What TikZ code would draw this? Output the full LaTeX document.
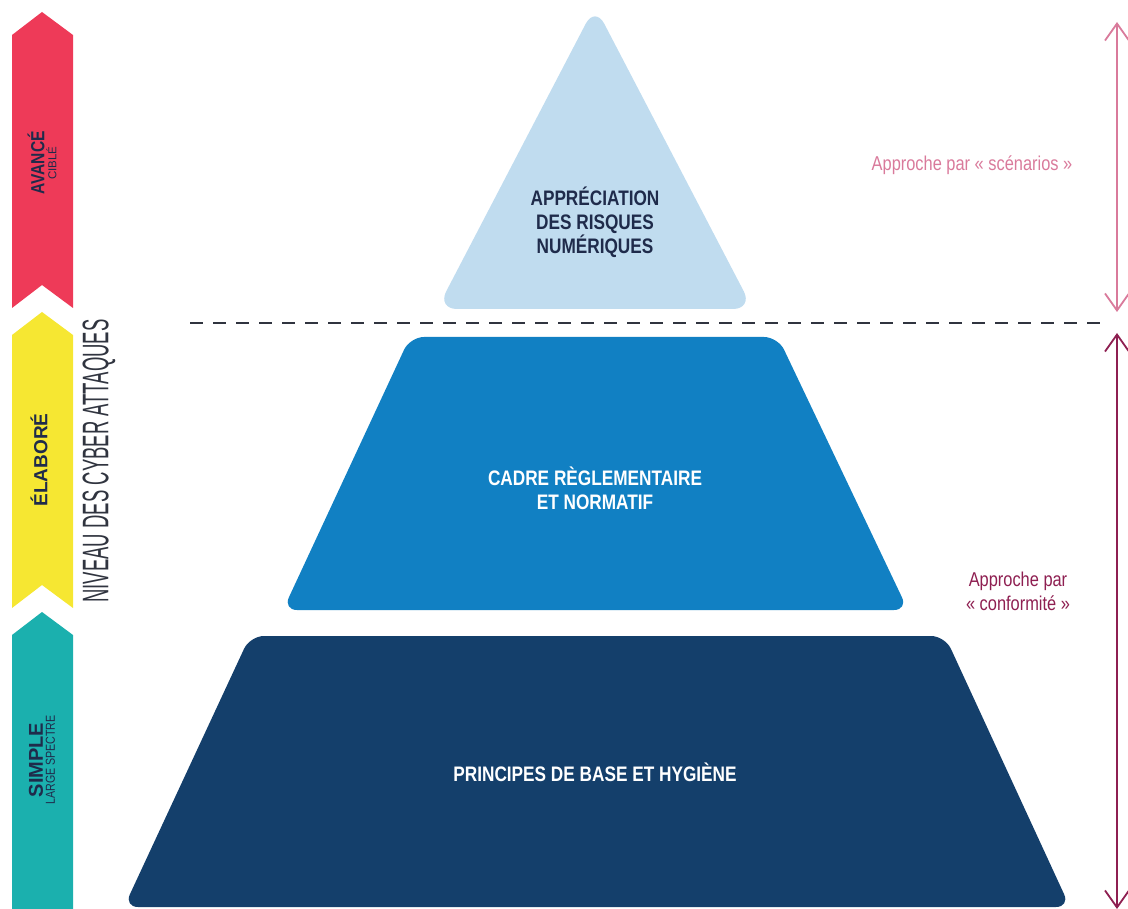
\documentclass[tikz,border=0pt]{standalone}
\usepackage{fontspec}
\setmainfont{Liberation Sans}
\newfontfamily\condfont[FakeStretch=0.82]{Liberation Sans}
\newfontfamily\narrowfont[FakeStretch=0.5]{Liberation Sans}
\usetikzlibrary{arrows.meta}
\definecolor{avance}{HTML}{EE3A58}
\definecolor{elabore}{HTML}{F6E732}
\definecolor{simple}{HTML}{1BB0AE}
\definecolor{pale}{HTML}{C0DCEF}
\definecolor{mid}{HTML}{1180C3}
\definecolor{deep}{HTML}{143F6B}
\definecolor{ink}{HTML}{1F2B4B}
\definecolor{rose}{HTML}{D97A9B}
\definecolor{wine}{HTML}{8E1F51}
\definecolor{slate}{HTML}{30343F}

\begin{document}
\begin{tikzpicture}[x=1pt,y=-1pt]

\tikzset{tag/.style = {rotate=90, align=center, text=ink, inner sep=0pt}}
\tikzset{level/.style = {rounded corners=14pt}}
\tikzset{title/.style = {align=center, font=\condfont\bfseries\fontsize{21}{24}\selectfont}}
\tikzset{note/.style = {align=center, font=\condfont\fontsize{20}{24}\selectfont}}
\tikzset{span/.style = {<->, >={Straight Barb[length=17pt,width=24pt]}, line width=1.8pt}}

\useasboundingbox (0,0) rectangle (1128,909);

%bands
\fill[avance] (12,35) -- (42,12) -- (73,35) -- (73,308) -- (42,285) -- (12,308) -- cycle;
\fill[elabore] (12,335) -- (42,312) -- (73,335) -- (73,608) -- (42,585) -- (12,608) -- cycle;
\fill[simple] (12,635) -- (42,612) -- (73,635) -- (73,909) -- (12,909) -- cycle;
\node[tag] (advanced) at (42,163) {{\condfont\bfseries\fontsize{19}{15}\selectfont AVANCÉ}\\{\fontsize{11.5}{11}\selectfont CIBLÉ}};
\node[tag] (elaborate) at (39,460) {\bfseries\fontsize{19}{15}\selectfont ÉLABORÉ};
\node[tag] (basic) at (42,760) {{\bfseries\fontsize{20}{17}\selectfont SIMPLE}\\{\condfont\fontsize{13}{12}\selectfont LARGE SPECTRE}};
\node[rotate=90, text=slate, font=\narrowfont\fontsize{37}{38}\selectfont] (niveau) at (99,461) {NIVEAU DES CYBER ATTAQUES};

%pyramid
\fill[pale, rounded corners=20pt] (595,309) -- (753,309) -- (595,6) -- (437,309) -- cycle;
\fill[mid, level] (595,610) -- (908,610) -- (778,337) -- (410,337) -- (283,610) -- cycle;
\fill[deep, level] (595,907) -- (1070,907) -- (945,636) -- (250,636) -- (124,907) -- cycle;
\node[title, text=ink] (risk) at (595,222) {APPRÉCIATION\\DES RISQUES\\NUMÉRIQUES};
\node[title, text=white] (frame) at (595,488) {CADRE RÈGLEMENTAIRE\\ET NORMATIF};
\node[title, text=white] (base) at (595,772) {PRINCIPES DE BASE ET HYGIÈNE};

%separator
\draw[slate, line width=1.8pt, dash pattern=on 13pt off 10pt] (190,323) -- (1110,323);

%approaches
\coordinate (scenTop) at (1117,22);
\coordinate (scenBot) at (1117,312);
\coordinate (confTop) at (1117,333);
\coordinate (confBot) at (1117,909);
\draw[span, rose] (scenTop) -- (scenBot);
\draw[span, wine] (confTop) -- (confBot);
\node[note, text=rose] (scen) at (972,165) {Approche par « scénarios »};
\node[note, text=wine] (conf) at (1018,591) {Approche par\\« conformité »};

\end{tikzpicture}
\end{document}
